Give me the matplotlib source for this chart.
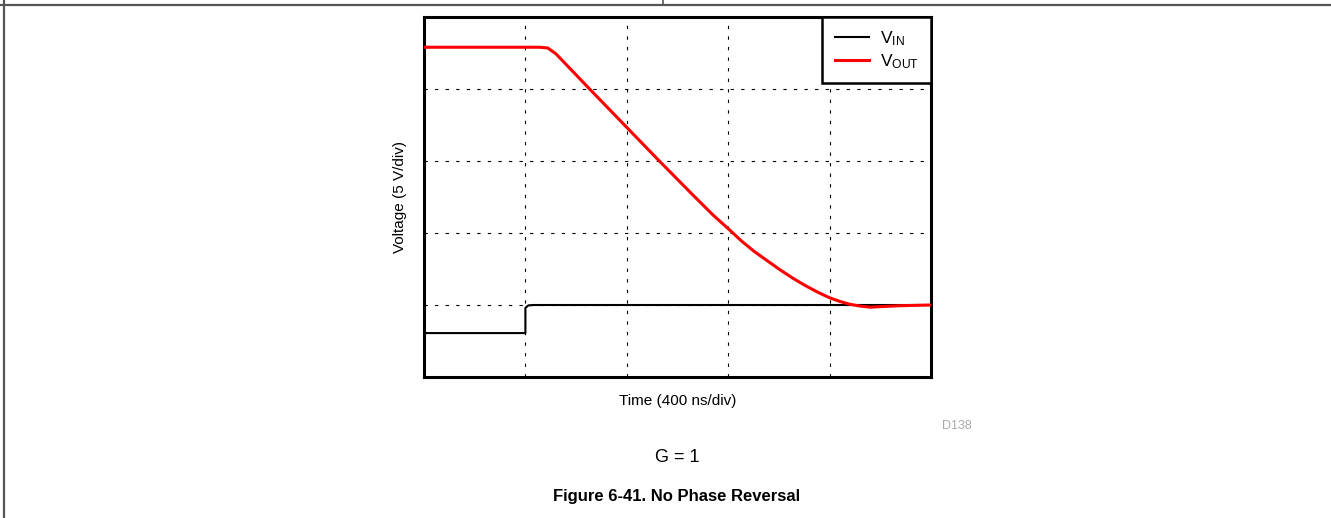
import matplotlib
matplotlib.use("Agg")
import matplotlib.pyplot as plt
from matplotlib.lines import Line2D

plt.rcParams['font.family'] = ['Liberation Sans', 'DejaVu Sans']
plt.rcParams['mathtext.fontset'] = 'custom'
plt.rcParams['mathtext.rm'] = 'Liberation Sans'
plt.rcParams['mathtext.it'] = 'Liberation Sans:italic'

# Data in divisions (time: 400 ns/div, voltage: 5 V/div)
vin_t = [0.0, 1.0, 1.0, 1.03, 1.08, 2.0, 3.0, 4.0, 5.0]
vin_v = [0.61, 0.61, 0.96, 0.995, 1.0, 1.0, 1.0, 1.0, 1.0]
vout_t = [0.0, 1.14, 1.22, 1.30, 1.64, 2.3, 2.65, 2.85, 3.0, 3.13, 3.26, 3.39, 3.51, 3.64,
          3.76, 3.88, 4.0, 4.1, 4.2, 4.3, 4.4, 4.69, 5.0]
vout_v = [4.58, 4.58, 4.57, 4.49, 3.99, 3.03, 2.53, 2.25, 2.06, 1.89, 1.74, 1.61, 1.49, 1.37,
          1.27, 1.18, 1.10, 1.05, 1.01, 0.985, 0.97, 0.99, 1.0]

labels = [r'V$_{\mathrm{IN}}$', r'V$_{\mathrm{OUT}}$']
xlabel = 'Time (400 ns/div)'
ylabel = 'Voltage (5 V/div)'
subcaption = 'G = 1'
caption = 'Figure 6-41. No Phase Reversal'
code = 'D138'

fig = plt.figure(figsize=(13.31, 5.18), dpi=100)
W, H = 1331, 518
ax = fig.add_axes([424 / W, 1 - 377 / H, (931 - 424) / W, (377 - 17) / H])

ax.plot(vin_t, vin_v, color='black', lw=1.5, label=labels[0], zorder=3)
ax.plot(vout_t, vout_v, color='red', lw=2.2, label=labels[1], zorder=4)

ax.set_xlim(0, 5)
ax.set_ylim(0, 5)
ax.set_xticks([1, 2, 3, 4])
ax.set_yticks([1, 2, 3, 4])
ax.tick_params(length=0, labelleft=False, labelbottom=False)
ax.grid(True, color='black', lw=0.8, linestyle=(0, (3, 6.5)))
for s in ax.spines.values():
    s.set_linewidth(2.2)

ax.set_xlabel(xlabel, fontsize=11, labelpad=12)
ax.set_ylabel(ylabel, fontsize=11, labelpad=12)

leg = ax.legend(loc='upper right', fontsize=12.5, frameon=True, fancybox=False,
                edgecolor='black', framealpha=1, borderaxespad=0, handlelength=2.0,
                handletextpad=0.6, borderpad=0.7, labelspacing=0.25)
leg.get_frame().set_linewidth(1.8)

fig.text(957 / W, 1 - 426 / H, code, fontsize=9, color='#aaaaaa', ha='center', va='center')
fig.text(677 / W, 1 - 458 / H, subcaption, fontsize=13, ha='center', va='center')
fig.text(677 / W, 1 - 497 / H, caption, fontsize=12, fontweight='bold', ha='center', va='center')

# page frame lines
fig.add_artist(Line2D([0, 1], [1 - 4.5 / H, 1 - 4.5 / H], color='#555555', lw=1.6, transform=fig.transFigure))
fig.add_artist(Line2D([663 / W, 663 / W], [1 - 4.5 / H, 1], color='#555555', lw=1.2, transform=fig.transFigure))
fig.add_artist(Line2D([3.5 / W, 3.5 / W], [0, 1], color='#555555', lw=1.6, transform=fig.transFigure))

fig.savefig('out.png', dpi=100)
